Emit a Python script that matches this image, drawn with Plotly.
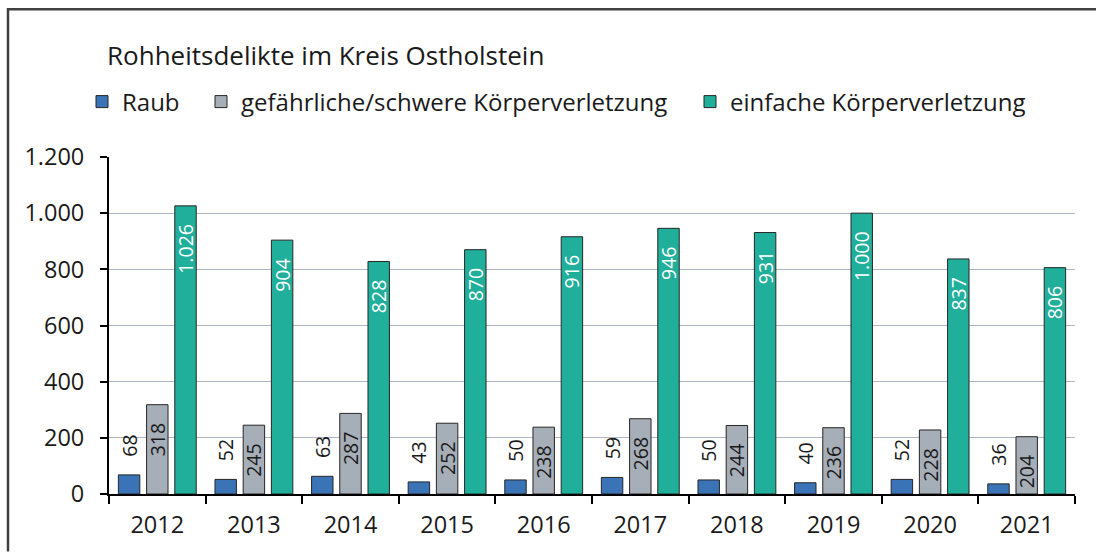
import plotly.graph_objects as go

years = ["2012", "2013", "2014", "2015", "2016", "2017", "2018", "2019", "2020", "2021"]
raub = [68, 52, 63, 43, 50, 59, 50, 40, 52, 36]
gefaehrlich = [318, 245, 287, 252, 238, 268, 244, 236, 228, 204]
einfach = [1026, 904, 828, 870, 916, 946, 931, 1000, 837, 806]

title_text = "Rohheitsdelikte im Kreis Ostholstein"
names = ["Raub", "gefährliche/schwere Körperverletzung", "einfache Körperverletzung"]

FONT = "Open Sans"
TXT = "#1a1a1a"
NB = "\u00a0"

fig = go.Figure()
fig.add_trace(go.Bar(
    x=years, y=raub, name=names[0], legend="legend",
    marker=dict(color="#3B74B6", line=dict(color="#262626", width=1)),
    texttemplate=NB * 3 + "%{y:,d}", textposition="outside", textangle=-90,
    outsidetextfont=dict(family=FONT, size=19.5, color=TXT),
    cliponaxis=False, constraintext="none",
))
fig.add_trace(go.Bar(
    x=years, y=gefaehrlich, name=names[1], legend="legend2",
    marker=dict(color="#A6AEB8", line=dict(color="#262626", width=1)),
    texttemplate="%{y:,d}" + NB * 3, textposition="inside", insidetextanchor="end",
    textangle=-90, insidetextfont=dict(family=FONT, size=19.5, color=TXT),
    constraintext="none",
))
fig.add_trace(go.Bar(
    x=years, y=einfach, name=names[2], legend="legend3",
    marker=dict(color="#20AF9A", line=dict(color="#262626", width=1)),
    texttemplate="%{y:,d}" + NB * 3, textposition="inside", insidetextanchor="end",
    textangle=-90, insidetextfont=dict(family=FONT, size=19.5, color="white"),
    constraintext="none",
))

W, H = 1096, 552
L, R, T, B = 109, 21, 157, 57.5
pw, ph = W - L - R, H - T - B

def px2paper(x, y):
    return (x - L) / pw, (H - B - y) / ph

leg_common = dict(orientation="h", xref="container", yref="container",
                  yanchor="middle", xanchor="left", bgcolor="rgba(0,0,0,0)",
                  font=dict(family=FONT, size=24, color=TXT))

x0, y0 = px2paper(8, 552)
x1, y1 = px2paper(8, 9)
x2, _ = px2paper(1096, 9)

fig.update_layout(
    width=W, height=H,
    margin=dict(l=L, r=R, t=T, b=B),
    paper_bgcolor="white", plot_bgcolor="white",
    separators=",.",
    showlegend=True,
    font=dict(family=FONT, size=23.5, color=TXT),
    barmode="group", bargap=0.124, bargroupgap=0.24,
    title=dict(text=title_text, xref="container", yref="container",
               x=107 / W, xanchor="left", y=1 - 56 / H, yanchor="middle",
               font=dict(family=FONT, size=26, color=TXT)),
    legend=dict(x=82 / W, y=1 - 102 / H, **leg_common),
    legend2=dict(x=201 / W, y=1 - 102 / H, **leg_common),
    legend3=dict(x=690 / W, y=1 - 102 / H, **leg_common),
    xaxis=dict(type="category", tickson="boundaries", ticks="outside", ticklen=8,
               tickwidth=2, tickcolor="black", showline=True, linecolor="black",
               linewidth=2, showgrid=False, ticklabelstandoff=9,
               tickfont=dict(family=FONT, size=23.5, color=TXT)),
    yaxis=dict(range=[0, 1200], dtick=200, tickformat=",d", ticks="outside",
               ticklen=7, tickwidth=2, tickcolor="black", showline=True,
               linecolor="black", linewidth=2, gridcolor="#AEB6C3", gridwidth=1,
               zeroline=False, ticklabelstandoff=11,
               tickfont=dict(family=FONT, size=23.5, color=TXT)),
    shapes=[dict(type="path", xref="paper", yref="paper",
                 path=f"M {x0} {y0} L {x1} {y1} L {x2} {y1}",
                 line=dict(color="#404040", width=2.5))],
)

fig.write_html("out.html", config={"displayModeBar": False},
               post_script="document.body.style.margin='0';")
